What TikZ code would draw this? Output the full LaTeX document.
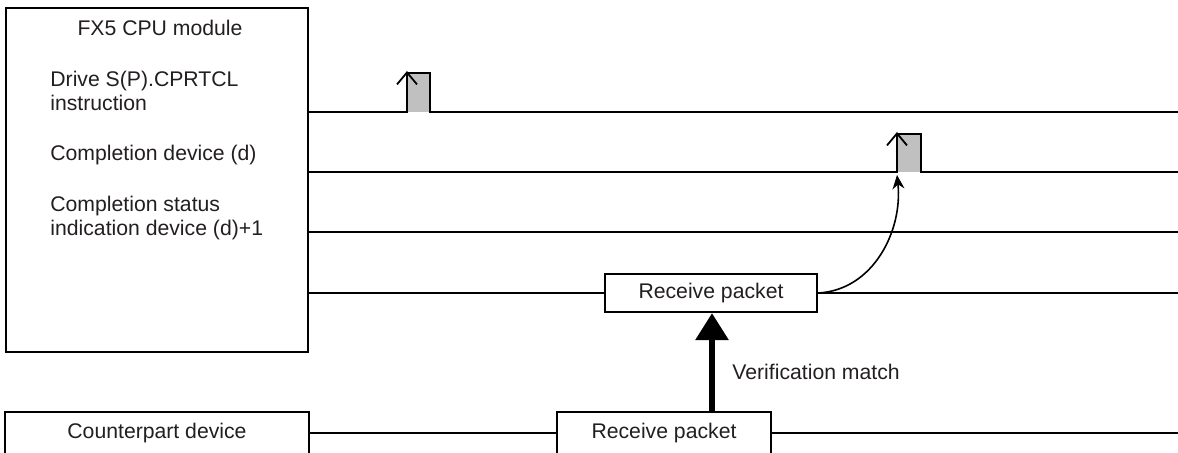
\documentclass[tikz,border=0pt]{standalone}
\usepackage{fontspec}
\setmainfont{Liberation Sans}
\usetikzlibrary{arrows.meta}
\definecolor{txt}{HTML}{231F20}
\definecolor{pulsegray}{HTML}{C0C0C0}
\begin{document}
\begin{tikzpicture}[x=0.5pt,y=-0.5pt,
  every node/.style={font=\fontsize{10.6}{12}\selectfont, text=txt},
  sig/.style={line width=1.1pt, black},
  box/.style={draw=black, line width=1.1pt, fill=white, inner sep=0pt},
  label/.style={anchor=west, align=left, inner sep=0pt}]
\useasboundingbox (0,0) rectangle (1178,452);

% CPU module box
\node[box, minimum width=151pt, minimum height=172pt] (cpu) at (157,180) {};
\node (title) at (160,28) {FX5 CPU module};
\node[label] (t1) at (50,91) {Drive S(P).CPRTCL\\instruction};
\node[label] (t2) at (50,155) {Completion device (d)};
\node[label] (t3) at (50,218) {Completion status\\indication device (d)+1};

% line 1 with pulse
\fill[pulsegray] (407,73) rectangle (430,112);
\coordinate (a1) at (308,112);
\coordinate (a2) at (1178,112);
\draw[sig] (a1) -- (407,112) -- (407,73) -- (430,73) -- (430,112) -- (a2);
\draw[line width=0.9pt, -{Straight Barb[length=6pt,width=10pt]}] (407,95) -- (407,71);

% line 2 with pulse
\fill[pulsegray] (897,134) rectangle (921,172);
\coordinate (b1) at (308,172);
\coordinate (b2) at (1178,172);
\draw[sig] (b1) -- (897,172) -- (897,134) -- (921,134) -- (921,172) -- (b2);
\draw[line width=0.9pt, -{Straight Barb[length=6pt,width=10pt]}] (897,160) -- (897,132);

% line 3
\coordinate (c1) at (308,232);
\coordinate (c2) at (1178,232);
\draw[sig] (c1) -- (c2);

% line 4 with receive packet
\node[box, minimum width=106pt, minimum height=19pt] (rp1) at (711,293) {Receive packet};
\coordinate (d1) at (308,293);
\coordinate (d2) at (1178,293);
\draw[sig] (d1) -- (rp1.west);
\draw[sig] (rp1.east) -- (d2);

% curved arrow
\coordinate (p2) at (897,175);
\draw[line width=0.8pt, -{Stealth[length=7pt,width=6pt]}] (rp1.east) to[out=3, in=-84] (p2);

% counterpart
\node[box, minimum width=152pt, minimum height=21pt] (cp) at (157,433) {Counterpart device};
\node[box, minimum width=107pt, minimum height=21pt] (rp2) at (664,433) {Receive packet};
\coordinate (e2) at (1178,433);
\draw[sig] (cp.east) -- (rp2.west);
\draw[sig] (rp2.east) -- (e2);

% verification arrow
\coordinate (v0) at (712,412);
\draw[line width=3pt, -{Triangle[length=13.5pt,width=16pt]}] (v0) -- (rp1.south -| v0);
\node[label] (vm) at (732,372) {Verification match};
\end{tikzpicture}
\end{document}
